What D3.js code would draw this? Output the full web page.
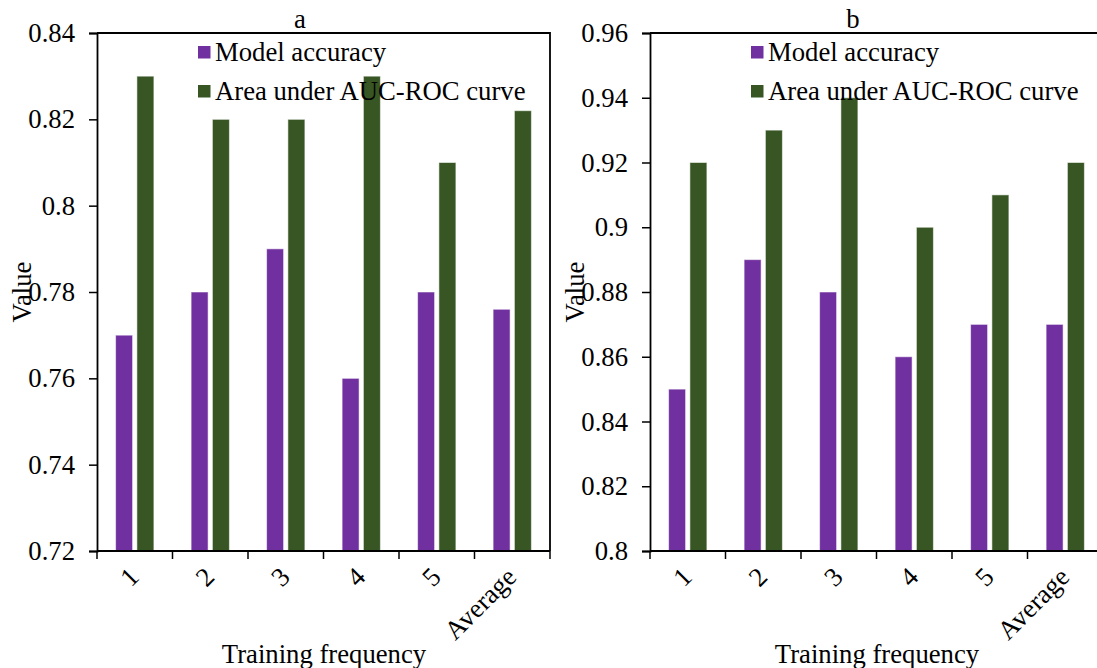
<!DOCTYPE html>
<html>
<head>
<meta charset="utf-8">
<script src="https://cdnjs.cloudflare.com/ajax/libs/d3/7.8.5/d3.min.js"></script>
<style>
  html, body { margin: 0; padding: 0; background: #fff; }
  svg { display: block; }
  svg text { font-family: "Liberation Serif", "Times New Roman", Times, "DejaVu Serif", serif !important; fill: #000; }
</style>
</head>
<body>
<svg id="chart" width="1097" height="668"></svg>
<script>
// Categories shared by both panels
const categories = ["1", "2", "3", "4", "5", "Average"];
const seriesNames = ["Model accuracy", "Area under AUC-ROC curve"];
const seriesColors = ["#7030A0", "#375623"];

// Panel a values
const accuracyA = [0.77, 0.78, 0.79, 0.76, 0.78, 0.776];
const aucA = [0.83, 0.82, 0.82, 0.83, 0.81, 0.822];
const ticksA = [0.72, 0.74, 0.76, 0.78, 0.80, 0.82, 0.84];

// Panel b values
const accuracyB = [0.85, 0.89, 0.88, 0.86, 0.87, 0.87];
const aucB = [0.92, 0.93, 0.94, 0.90, 0.91, 0.92];
const ticksB = [0.80, 0.82, 0.84, 0.86, 0.88, 0.90, 0.92, 0.94, 0.96];

const svg = d3.select("#chart");
const FS = 26.7;
const SERIF = "'Liberation Serif', 'Times New Roman', Times, 'DejaVu Serif', serif";
const plotW = 453, plotTop = 33, plotBottom = 551;

function fmt(v) {
  // trims trailing zeros: 0.80 -> 0.8
  return String(+v.toFixed(2));
}

function drawPanel(opts) {
  const { left, title, acc, auc, ticks } = opts;
  const g = svg.append("g").attr("font-family", SERIF);

  const x = d3.scaleBand().domain(categories).range([left, left + plotW]).paddingInner(0).paddingOuter(0);
  const y = d3.scaleLinear().domain([ticks[0], ticks[ticks.length - 1]]).range([plotBottom, plotTop]);

  const barW = 17, gap = 4.3;
  const series = [acc, auc];

  // bars
  series.forEach((vals, si) => {
    g.append("g").selectAll("rect")
      .data(categories.map((c, i) => ({ c, v: vals[i] })))
      .join("rect")
      .attr("x", d => x(d.c) + x.bandwidth() / 2 - (barW + gap / 2) + si * (barW + gap))
      .attr("y", d => y(d.v))
      .attr("width", barW)
      .attr("height", d => plotBottom - y(d.v))
      .attr("fill", seriesColors[si])
      .attr("stroke", "rgba(255,255,255,0.55)")
      .attr("stroke-width", 1);
  });

  // frame: top and right edges
  g.append("path")
    .attr("d", `M${left},${plotTop}H${left + plotW}V${plotBottom}`)
    .attr("fill", "none").attr("stroke", "#000").attr("stroke-width", 1.8);

  // y axis
  const yAxis = d3.axisLeft(y).tickValues(ticks).tickFormat(fmt).tickSize(8).tickPadding(14);
  const ya = g.append("g").attr("transform", `translate(${left},0)`).call(yAxis)
    .attr("font-family", SERIF).attr("font-size", FS);
  ya.select(".domain").attr("stroke", "#000").attr("stroke-width", 1.8);
  ya.selectAll(".tick line").attr("stroke", "#000").attr("stroke-width", 1.5);
  ya.selectAll(".tick text").attr("fill", "#000");

  // x axis: ticks at category boundaries
  const bounds = categories.map(c => x(c)).concat([left + plotW]);
  g.append("line").attr("x1", left).attr("x2", left + plotW)
    .attr("y1", plotBottom).attr("y2", plotBottom)
    .attr("stroke", "#000").attr("stroke-width", 1.8);
  g.append("g").selectAll("line").data(bounds).join("line")
    .attr("x1", d => d).attr("x2", d => d)
    .attr("y1", plotBottom).attr("y2", plotBottom + 8)
    .attr("stroke", "#000").attr("stroke-width", 1.5);

  // rotated category labels
  g.append("g").selectAll("text").data(categories).join("text")
    .attr("transform", c => `translate(${x(c) + x.bandwidth() / 2 - 1},${plotBottom + 21}) rotate(-45)`)
    .attr("text-anchor", "end")
    .attr("dy", "0.35em")
    .attr("font-size", FS)
    .text(c => c);

  // title
  g.append("text").attr("x", left + 203).attr("y", 28)
    .attr("text-anchor", "middle").attr("font-size", FS).text(title);

  // axis titles
  g.append("text").attr("x", left + 227).attr("y", 663)
    .attr("text-anchor", "middle").attr("font-size", FS).text("Training frequency");
  g.append("text")
    .attr("transform", `translate(${left - 66},292) rotate(-90)`)
    .attr("text-anchor", "middle").attr("font-size", FS).text("Value");

  // legend
  const lg = g.append("g").attr("transform", `translate(${left + 101},0)`);
  seriesNames.forEach((name, i) => {
    const cy = 52 + i * 39;
    lg.append("rect").attr("x", 0).attr("y", cy - 6).attr("width", 12.5).attr("height", 12.5)
      .attr("fill", seriesColors[i]);
    lg.append("text").attr("x", 17).attr("y", cy).attr("dy", "0.35em")
      .attr("font-size", FS).text(name);
  });
}

drawPanel({ left: 97, title: "a", acc: accuracyA, auc: aucA, ticks: ticksA });
drawPanel({ left: 650, title: "b", acc: accuracyB, auc: aucB, ticks: ticksB });
</script>
</body>
</html>
